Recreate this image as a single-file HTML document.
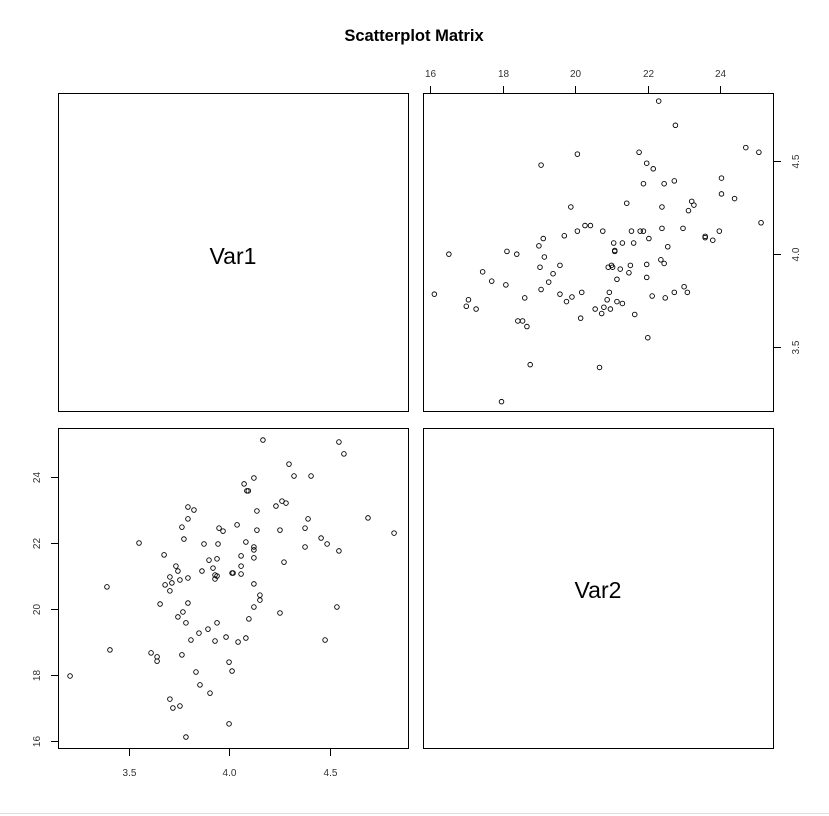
<!DOCTYPE html>
<html><head><meta charset="utf-8"><style>
html,body{margin:0;padding:0;background:#fff;}
svg{display:block;font-family:"Liberation Sans",sans-serif;}
</style></head><body>
<svg id="chart" width="829" height="816" viewBox="0 0 829 816">
<rect x="0" y="0" width="829" height="816" fill="#fff"/>
<line x1="0" y1="813.5" x2="829" y2="813.5" stroke="#ddd"/>
<text x="414" y="41" text-anchor="middle" font-size="16.5" font-weight="bold">Scatterplot Matrix</text>
<g id="panels" fill="none" stroke="#000" stroke-width="1">
<rect x="58.5" y="93.5" width="350" height="318"/>
<rect x="423.5" y="93.5" width="350" height="318"/>
<rect x="58.5" y="428.5" width="350" height="320"/>
<rect x="423.5" y="428.5" width="350" height="320"/>
</g>
<text x="233" y="264" text-anchor="middle" font-size="23">Var1</text>
<text x="598" y="598" text-anchor="middle" font-size="23">Var2</text>
<g id="axes"></g>
<g id="pts"></g>
</svg>
<script>
const var1 = [3.794,3.824,3.794,3.764,3.949,3.969,3.55,3.774,3.874,3.944,3.675,3.899,3.939,3.734,3.744,3.864,3.919,3.929,3.939,3.929,3.704,3.794,3.754,3.714,3.68,3.39,4.014,4.168,4.547,4.572,4.298,4.123,4.323,4.408,4.074,4.088,4.095,4.233,4.263,4.283,4.138,4.393,4.692,4.039,4.138,4.253,4.378,4.822,4.083,4.123,4.123,4.123,4.458,4.488,4.547,4.378,4.059,4.059,4.273,4.019,4.059,4.123,3.704,3.655,3.794,3.744,3.769,3.784,3.809,3.849,3.894,3.939,3.929,3.984,3.405,3.61,3.64,3.64,3.764,3.999,4.014,3.206,3.834,3.854,3.904,3.704,3.719,3.754,3.999,3.784,4.153,4.153,4.123,4.253,4.537,4.098,4.044,4.083,4.478];
const var2 = [23.09,23.0,22.73,22.48,22.45,22.36,22.0,22.12,21.97,21.97,21.64,21.48,21.52,21.3,21.15,21.15,21.24,21.03,21.0,20.91,20.97,20.94,20.88,20.79,20.73,20.67,21.09,25.12,25.06,24.7,24.39,23.97,24.03,24.03,23.79,23.58,23.58,23.12,23.27,23.21,22.97,22.73,22.76,22.55,22.39,22.39,22.45,22.3,22.03,21.88,21.79,21.55,22.15,21.97,21.76,21.88,21.61,21.3,21.42,21.09,21.06,20.76,20.55,20.15,20.18,19.76,19.91,19.58,19.06,19.27,19.39,19.58,19.03,19.15,18.76,18.67,18.55,18.42,18.61,18.39,18.12,17.97,18.09,17.7,17.45,17.27,17.0,17.06,16.52,16.12,20.42,20.27,20.06,19.88,20.06,19.7,19.0,19.12,19.06];
const var1Ticks = ["3.5","4.0","4.5"];
const var2Ticks = ["16","18","20","22","24"];

const NS = "http://www.w3.org/2000/svg";
const blX = v => 129 + (v - 3.5) * 200.5;
const blY = v => 741 - (v - 16) * 33;
const trX = v => 430 + (v - 16) * 36.3;
const trY = v => 254 - (v - 4.0) * 186;

function mk(tag, attrs, parent) {
  const e = document.createElementNS(NS, tag);
  for (const k in attrs) e.setAttribute(k, attrs[k]);
  parent.appendChild(e);
  return e;
}
const axes = document.getElementById('axes');
const pts = document.getElementById('pts');

var1Ticks.forEach(t => {
  const x = Math.round(blX(+t)) + 0.5;
  const l = mk('line', {x1:x, y1:749, x2:x, y2:756, stroke:'#000'}, axes);
  
  
  const tx = mk('text', {x:x, y:776, 'text-anchor':'middle', 'font-size':10, fill:'#333'}, axes);
  tx.textContent = t;
  
  
});
var2Ticks.forEach(t => {
  const y = Math.round(blY(+t)) + 0.5;
  const l = mk('line', {x1:51, y1:y, x2:58, y2:y, stroke:'#000'}, axes);
  
  
  const tx = mk('text', {x:0, y:0, 'text-anchor':'middle', 'font-size':10, fill:'#333', transform:`translate(40,${y}) rotate(-90)`}, axes);
  tx.textContent = t;
  
  
});
var2Ticks.forEach(t => {
  const x = Math.round(trX(+t)) + 0.5;
  const l = mk('line', {x1:x, y1:86, x2:x, y2:93, stroke:'#000'}, axes);
  
  
  const tx = mk('text', {x:x, y:77, 'text-anchor':'middle', 'font-size':10, fill:'#333'}, axes);
  tx.textContent = t;
  
  
});
var1Ticks.forEach(t => {
  const y = Math.round(trY(+t)) + 0.5;
  const l = mk('line', {x1:774, y1:y, x2:781, y2:y, stroke:'#000'}, axes);
  
  
  const tx = mk('text', {x:0, y:0, 'text-anchor':'middle', 'font-size':10, fill:'#333', transform:`translate(799,${y}) rotate(-90)`}, axes);
  tx.textContent = t;
  
  
});

for (let i = 0; i < var1.length; i++) {
  const a = mk('circle', {cx:blX(var1[i]), cy:blY(var2[i]), r:2.3, fill:'none', stroke:'#000', 'stroke-width':0.9}, pts);
  
  
  const b = mk('circle', {cx:trX(var2[i]), cy:trY(var1[i]), r:2.3, fill:'none', stroke:'#000', 'stroke-width':0.9}, pts);
  
  
}
</script>
</body></html>
